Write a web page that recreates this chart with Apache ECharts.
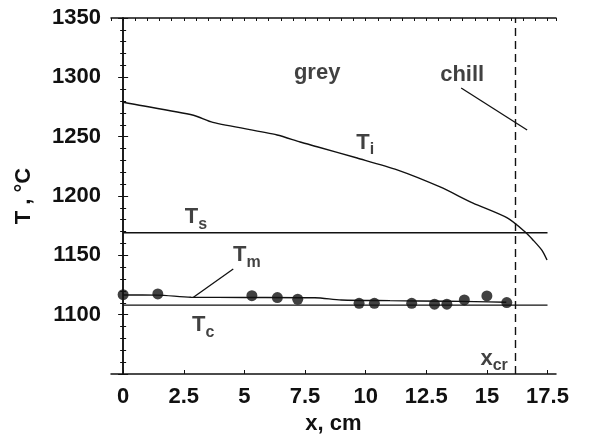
<!DOCTYPE html>
<html>
<head>
<meta charset="utf-8">
<script src="https://cdn.jsdelivr.net/npm/echarts@6/dist/echarts.min.js"></script>
<style>
  html, body { margin: 0; padding: 0; background: #fff; }
  #chart { width: 589px; height: 442px; }
</style>
</head>
<body>
<div id="chart"></div>
<script>
// tick labels on x
const xTicks = [0, 2.5, 5, 7.5, 10, 12.5, 15, 17.5];

// T_i curve (x, T)
const tiCurve = [
  [0, 1279], [0.4, 1277.5], [2.9, 1268], [3.7, 1262], [6.35, 1251.4],
  [7.3, 1245.5], [8.0, 1241.5], [9.65, 1232], [11.3, 1222], [13.07, 1207.6],
  [14.43, 1194], [15.84, 1181.5], [16.58, 1169.7], [16.9, 1163],
  [17.28, 1154], [17.48, 1146]
];

// T_m smoothed curve
const tmCurve = [
  [0, 1116.6], [1.4, 1116.5], [2.8, 1114.7], [5, 1114.5], [7.9, 1114.2],
  [9.0, 1112.4], [11.0, 1111.8], [13.4, 1111.3], [14.5, 1111], [15.8, 1110.5]
];

// measured points
const tmPoints = [
  [0, 1116.8], [1.43, 1117.5], [5.31, 1116.0], [6.36, 1114.4], [7.2, 1113.0],
  [9.73, 1109.6], [10.36, 1109.6], [11.9, 1109.6], [12.84, 1108.8],
  [13.35, 1108.8], [14.07, 1112.4], [15.0, 1115.8], [15.82, 1110.2]
];

// horizontal levels
const tsLevel = 1169;
const tcLevel = 1108;
const xRange = [0, 17.5];
const xCritical = 16.16;

// text annotations: [x, T, text]
const notes = [
  [8.0, 1303.5, 'grey'],
  [13.98, 1302, 'chill'],
  [9.98, 1245, '{b|T}{s|i}'],
  [3.0, 1182, '{b|T}{s|s}'],
  [5.1, 1150, '{b|T}{s|m}'],
  [3.3, 1091, '{b|T}{s|c}'],
  [15.3, 1063, '{b|x}{s|cr}']
];

// leader lines
const leaders = [
  [[13.94, 1291], [16.66, 1255.6]],
  [[2.9, 1114.7], [4.54, 1138.5]]
];

const FONT = "'Liberation Sans', Arial, sans-serif";
const INK = '#111';

const chart = echarts.init(document.getElementById('chart'), null, { renderer: 'canvas' });

const axisText = { fontFamily: FONT, fontSize: 22, fontWeight: 'bold', color: INK };

const option = {
  backgroundColor: '#fff',
  animation: false,
  textStyle: { fontFamily: FONT },
  grid: { left: 111, right: 33, top: 18, bottom: 68, containLabel: false, outerBoundsMode: 'none' },
  xAxis: [
    {
      type: 'value', min: -0.5, max: 17.85, position: 'bottom',
      name: 'x, cm', nameLocation: 'middle', nameGap: 38,
      nameTextStyle: axisText,
      axisLine: { lineStyle: { color: INK, width: 1.5 } },
      axisTick: { inside: true, length: 4, customValues: xTicks, lineStyle: { color: INK } },
      axisLabel: { customValues: xTicks, margin: 12, ...axisText },
      splitLine: { show: false }
    },
    {
      type: 'value', min: -0.5, max: 17.85, interval: 0.5, position: 'top',
      axisLine: { lineStyle: { color: INK, width: 1.5 } },
      axisTick: { inside: true, length: 3, lineStyle: { color: INK } },
      axisLabel: { show: false },
      splitLine: { show: false }
    }
  ],
  yAxis: [
    {
      type: 'value', min: 1050, max: 1350, interval: 50, position: 'left',
      name: 'T , °C', nameLocation: 'middle', nameGap: 76,
      nameTextStyle: axisText,
      axisLine: { show: true, lineStyle: { color: INK, width: 1.5 } },
      axisTick: { show: true, inside: true, length: 5, lineStyle: { color: INK } },
      minorTick: { show: true, splitNumber: 5, length: 3, lineStyle: { color: INK } },
      axisLabel: {
        margin: 10, ...axisText,
        formatter: v => (v === 1050 ? '' : String(v))
      },
      splitLine: { show: false }
    },
    {
      type: 'value', min: 1050, max: 1350, interval: 50, position: 'right',
      axisLine: { show: true, lineStyle: { color: INK, width: 1.5 } },
      axisTick: { show: true, inside: true, length: 5, lineStyle: { color: INK } },
      minorTick: { show: true, splitNumber: 5, length: 3, lineStyle: { color: INK } },
      axisLabel: { show: false },
      splitLine: { show: false }
    }
  ],
  series: [
    {
      name: 'Ti', type: 'line', data: tiCurve, smooth: 0.25, showSymbol: false,
      lineStyle: { color: INK, width: 1.4 }
    },
    {
      name: 'Ts', type: 'line', showSymbol: false,
      data: xRange.map(x => [x, tsLevel]),
      lineStyle: { color: INK, width: 1.4 }
    },
    {
      name: 'Tc', type: 'line', showSymbol: false,
      data: xRange.map(x => [x, tcLevel]),
      lineStyle: { color: INK, width: 1.4 }
    },
    {
      name: 'Tm', type: 'line', data: tmCurve, smooth: 0.3, showSymbol: false,
      lineStyle: { color: INK, width: 1.4 },
      markLine: {
        silent: true, symbol: 'none', label: { show: false },
        lineStyle: { color: INK, width: 1.3, type: 'solid' },
        data: leaders.map(([a, b]) => [{ coord: a }, { coord: b }])
          .concat([{ xAxis: xCritical, lineStyle: { type: [8, 5], width: 1.4, color: INK } }])
      }
    },
    {
      name: 'points', type: 'scatter', data: tmPoints,
      symbol: 'circle', symbolSize: 11,
      itemStyle: { color: INK }
    },
    {
      name: 'notes', type: 'scatter', silent: true,
      symbolSize: 0,
      data: notes.map(n => ({ value: [n[0], n[1]], note: n[2] })),
      label: {
        show: true, position: 'inside',
        formatter: p => p.data.note,
        fontFamily: FONT, fontSize: 22, fontWeight: 'bold', color: INK,
        rich: {
          b: { fontFamily: FONT, fontSize: 22, fontWeight: 'bold', color: INK, lineHeight: 30, verticalAlign: 'middle' },
          s: { fontFamily: FONT, fontSize: 16, fontWeight: 'bold', color: INK, lineHeight: 16, verticalAlign: 'bottom' }
        }
      }
    }
  ]
};

chart.setOption(option);
</script>
</body>
</html>
